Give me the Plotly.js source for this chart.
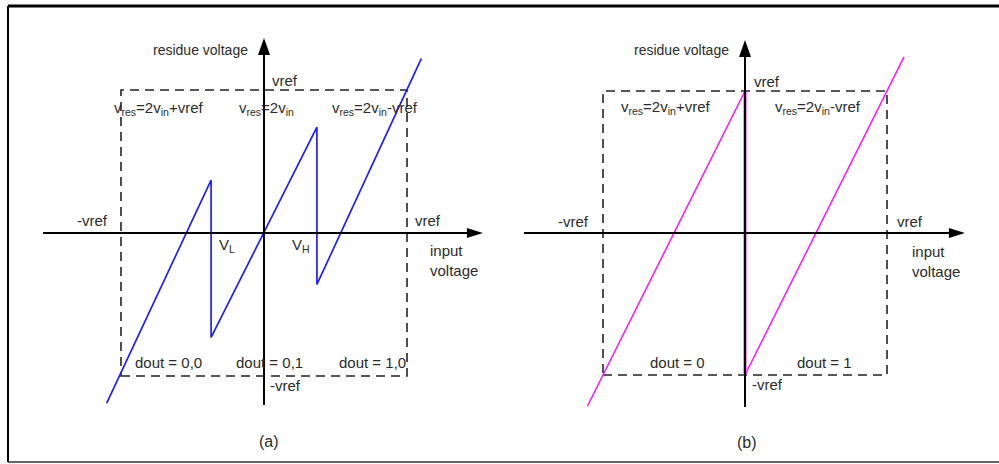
<!DOCTYPE html>
<html>
<head>
<meta charset="utf-8">
<script src="https://cdn.plot.ly/plotly-3.0.1.min.js"></script>
<style>
  html, body { margin: 0; padding: 0; background: #ffffff; }
  #chart { width: 999px; height: 464px; }
</style>
</head>
<body>
<div id="chart"></div>
<script>
// Transfer characteristics of a pipelined ADC stage, in units of vref.
// (a) 1.5-bit stage with two comparator thresholds VL and VH
const vinA  = [-1.10, -0.37, -0.37, 0.37, 0.37, 1.10];
const vresA = [-1.19,  0.37, -0.73, 0.74, -0.36, 1.22];

// (b) 1-bit stage with a single threshold at zero
const vinB  = [-1.11, 0, 0, 1.12];
const vresB = [-1.22, 1, -1, 1.24];

// Reference box limits (±vref)
const boxLimits = [-1, 1];

// Text labels
const yTitle = 'residue voltage';
const xTitle = 'input<br>voltage';
const refLabel = 'vref';
const negRefLabel = '-vref';
const eqLabelsA = ['v<sub>res</sub>=2v<sub>in</sub>+vref', 'v<sub>res</sub>=2v<sub>in</sub>', 'v<sub>res</sub>=2v<sub>in</sub>-vref'];
const doutLabelsA = ['dout = 0,0', 'dout = 0,1', 'dout = 1,0'];
const threshLabelsA = ['V<sub>L</sub>', 'V<sub>H</sub>'];
const eqLabelsB = ['v<sub>res</sub>=2v<sub>in</sub>+vref', 'v<sub>res</sub>=2v<sub>in</sub>-vref'];
const doutLabelsB = ['dout = 0', 'dout = 1'];
const panelLabels = ['(a)', '(b)'];

const W = 999, H = 464;
const FONT = 'Liberation Sans, Arial, sans-serif';
const TXT = '#2b2b2b';
const FS = 15;

// Each panel: origin in page pixels and pixels per vref
const panels = [
  { ox: 264, oy: 233, s: 143, xa: 'x',  ya: 'y',  xname: 'xaxis',  yname: 'yaxis'  },
  { ox: 745, oy: 233, s: 142, xa: 'x2', ya: 'y2', xname: 'xaxis2', yname: 'yaxis2' }
];
const XR = 1.65, YR = 1.55;

const layout = {
  width: W, height: H,
  margin: { l: 0, r: 0, t: 0, b: 0 },
  paper_bgcolor: '#ffffff', plot_bgcolor: 'rgba(0,0,0,0)',
  showlegend: false,
  font: { family: FONT, size: FS, color: TXT },
  shapes: [], annotations: []
};

panels.forEach(p => {
  const hx = XR * p.s, hy = YR * p.s;
  layout[p.xname] = { domain: [(p.ox - hx) / W, (p.ox + hx) / W], range: [-XR, XR],
                      visible: false, fixedrange: true, anchor: p.ya };
  layout[p.yname] = { domain: [(H - (p.oy + hy)) / H, (H - (p.oy - hy)) / H], range: [-YR, YR],
                      visible: false, fixedrange: true, anchor: p.xa };
});

// Axis lines with arrow heads (extents in vref units)
const axisExt = [
  { x0: -1.545, x1: 1.531, y0: -1.203, y1: 1.364 },
  { x0: -1.556, x1: 1.549, y0: -1.225, y1: 1.359 }
];
panels.forEach((p, i) => {
  const e = axisExt[i];
  const back = 10 / p.s;
  layout.shapes.push({ type: 'line', xref: p.xa, yref: p.ya, x0: e.x0, x1: e.x1 - back, y0: 0, y1: 0,
                       line: { color: '#000', width: 2 } });
  layout.shapes.push({ type: 'line', xref: p.xa, yref: p.ya, x0: 0, x1: 0, y0: e.y0, y1: e.y1 - back,
                       line: { color: '#000', width: 2 } });
  layout.shapes.push({ type: 'path', xref: p.xa, yref: p.ya, xsizemode: 'pixel', ysizemode: 'pixel',
                       xanchor: e.x1, yanchor: 0, path: 'M0,0 L-16,5 L-16,-5 Z',
                       fillcolor: '#000', line: { width: 0 } });
  layout.shapes.push({ type: 'path', xref: p.xa, yref: p.ya, xsizemode: 'pixel', ysizemode: 'pixel',
                       xanchor: 0, yanchor: e.y1, path: 'M0,0 L-6,-17 L6,-17 Z',
                       fillcolor: '#000', line: { width: 0 } });
  // dashed ±vref box
  layout.shapes.push({ type: 'rect', xref: p.xa, yref: p.ya, layer: 'below',
                       x0: boxLimits[0], x1: boxLimits[1], y0: boxLimits[0], y1: boxLimits[1],
                       line: { color: '#222', width: 1.6, dash: '9px,6px' } });
});

// Figure frame
layout.shapes.push({ type: 'line', xref: 'paper', yref: 'paper', x0: 8 / W, x1: 1.01, y0: 1 - 6 / H, y1: 1 - 6 / H,
                     line: { color: '#000', width: 3 } });
layout.shapes.push({ type: 'line', xref: 'paper', yref: 'paper', x0: 8 / W, x1: 8 / W, y0: 1 - 6 / H, y1: 1 - 462 / H,
                     line: { color: '#000', width: 2 } });
layout.shapes.push({ type: 'line', xref: 'paper', yref: 'paper', x0: 8 / W, x1: 1.01, y0: 1 - 462 / H, y1: 1 - 462 / H,
                     line: { color: '#333', width: 1.5 } });

function label(p, text, x, y, xanchor, size) {
  layout.annotations.push({ xref: p.xa, yref: p.ya, x: x, y: y, text: text, showarrow: false,
                            xanchor: xanchor, yanchor: 'middle', align: 'left',
                            font: { family: FONT, size: size || FS, color: TXT } });
}

// Panel (a) labels
const pa = panels[0];
label(pa, yTitle, -0.098, 1.28, 'right', 14);
label(pa, refLabel, 0.042, 1.063, 'left');
label(pa, eqLabelsA[0], -1.063, 0.874, 'left');
label(pa, eqLabelsA[1], -0.189, 0.874, 'left');
label(pa, eqLabelsA[2], 0.462, 0.874, 'left');
label(pa, negRefLabel, -1.077, 0.084, 'right');
label(pa, refLabel, 1.042, 0.084, 'left');
label(pa, threshLabelsA[0], -0.329, -0.09, 'left');
label(pa, threshLabelsA[1], 0.182, -0.09, 'left');
label(pa, xTitle, 1.147, -0.192, 'left');
label(pa, doutLabelsA[0], -0.916, -0.909, 'left');
label(pa, doutLabelsA[1], -0.21, -0.909, 'left');
label(pa, doutLabelsA[2], 0.51, -0.909, 'left');
label(pa, negRefLabel, 0.028, -1.063, 'left');
label(pa, panelLabels[0], 0.035, -1.46, 'center', 16);

// Panel (b) labels
const pb = panels[1];
label(pb, yTitle, -0.099, 1.289, 'right', 14);
label(pb, refLabel, 0.049, 1.07, 'left');
label(pb, eqLabelsB[0], -0.887, 0.887, 'left');
label(pb, eqLabelsB[1], 0.197, 0.887, 'left');
label(pb, negRefLabel, -1.085, 0.084, 'right');
label(pb, refLabel, 1.056, 0.084, 'left');
label(pb, xTitle, 1.162, -0.204, 'left');
label(pb, doutLabelsB[0], -0.683, -0.915, 'left');
label(pb, doutLabelsB[1], 0.352, -0.915, 'left');
label(pb, negRefLabel, 0.035, -1.07, 'left');
label(pb, panelLabels[1], 0.014, -1.472, 'center', 16);

const traces = [
  { x: vinA, y: vresA, xaxis: 'x', yaxis: 'y', mode: 'lines', hoverinfo: 'skip',
    line: { color: '#1e1eff', width: 1.7 } },
  { x: vinB, y: vresB, xaxis: 'x2', yaxis: 'y2', mode: 'lines', hoverinfo: 'skip',
    line: { color: '#ff1aff', width: 1.6 } },
  // the decision jump at vin = 0, drawn heavier
  { x: vinB.slice(1, 3), y: vresB.slice(1, 3), xaxis: 'x2', yaxis: 'y2', mode: 'lines', hoverinfo: 'skip',
    line: { color: '#ff1aff', width: 3 } }
];

Plotly.newPlot('chart', traces, layout, { staticPlot: true, displayModeBar: false });
</script>
</body>
</html>
